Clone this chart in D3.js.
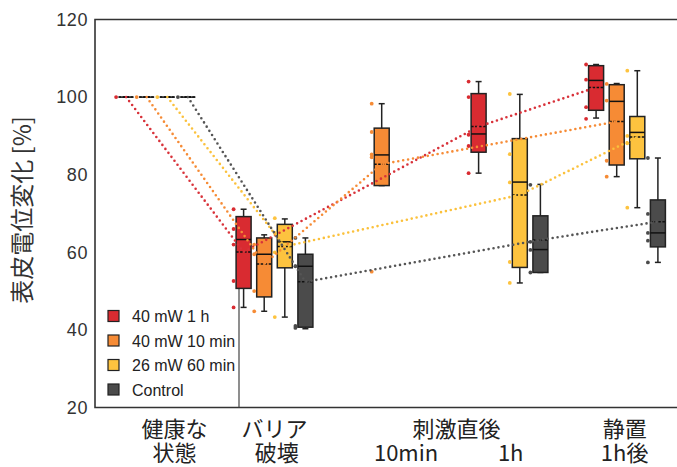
<!DOCTYPE html>
<html>
<head>
<meta charset="utf-8">
<script src="https://cdn.jsdelivr.net/npm/d3@7"></script>
<style>
  body { margin: 0; background: #fff; }
  svg { display: block; }
</style>
</head>
<body>
<svg width="677" height="467"></svg>
<script>
/* global d3 */
// stages along x: 0 健康な状態, 1 バリア破壊, 2 刺激直後10min, 3 刺激直後1h, 4 静置1h後
var seriesNames = ['40 mW 1 h', '40 mW 10 min', '26 mW 60 min', 'Control']
var seriesColors = ['#d92b31', '#f68b35', '#fdc33f', '#4b4b4b']
var lineColors = ['#d8323a', '#f68b35', '#fbc13c', '#555555']

var yTicks = [20, 40, 60, 80, 100, 120]
var topLabels = ['健康な', 'バリア', '刺激直後', '静置']
var topLabelPos = [0.15, 1, 2.55, 3.98]
var bottomLabels = ['状態', '破壊', '10min', '1h', '1h後']
var bottomLabelPos = [0.15, 1.02, 2.12, 3.01, 3.98]

// [min, q1, median, q3, max] per stage
var red1hStage = [0, 1, 3, 4]
var red1hBox = [[100, 100, 100, 100, 100], [45.8, 50.7, 63.3, 69.2, 71.1], [80.4, 85.8, 90.5, 100.9, 104], [94.6, 96.6, 104.3, 108.1, 108.4]]
var red1hMean = [100, 60.1, 92.4, 102.5]
var red1hPoints = [[100], [71.1, 66, 62, 52.6, 45.8], [104, 100, 90.3, 87.4, 80.4], [108.4, 104.5, 97.4, 94.4]]

var orange10Stage = [0, 1, 2, 4]
var orange10Box = [[100, 100, 100, 100, 100], [44.8, 48.5, 59.5, 63.7, 64.5], [77.2, 77.2, 85.1, 92, 98.3], [79.5, 82.5, 98.9, 103.2, 103.5]]
var orange10Mean = [100, 57, 82.7, 93.7]
var orange10Points = [[100], [62, 59.5, 50, 44.8], [98.3, 91, 85.2, 84.5, 55], [103.4, 99.1, 83.6, 79.5]]

var yellow60Stage = [0, 1, 3, 4]
var yellow60Box = [[100, 100, 100, 100, 100], [43.3, 56, 62.7, 67.2, 68.6], [52.1, 56.1, 78.1, 89.3, 100.7], [71.5, 84.1, 90.9, 95, 106.8]]
var yellow60Mean = [100, 61.5, 74.8, 89.7]
var yellow60Points = [[100], [68.8, 65, 60, 43.3], [100.8, 85.3, 78, 57.5, 52.1], [106.8, 90, 88.1, 71.5]]

var controlStage = [0, 1, 3, 4]
var controlBox = [[100, 100, 100, 100, 100], [40.3, 40.7, 56.4, 59.5, 63.7], [54.8, 54.8, 60.7, 69.4, 77.5], [57.4, 61.4, 65, 73.5, 84.3]]
var controlMean = [100, 52.4, 63.2, 67.9]
var controlPoints = [[100], [63.7, 56.4, 41, 40.5], [77.4, 62.7, 60.6, 54.8], [84.3, 69.9, 65, 63, 57.4]]

var allStages = [red1hStage, orange10Stage, yellow60Stage, controlStage]
var allBoxes = [red1hBox, orange10Box, yellow60Box, controlBox]
var allMeans = [red1hMean, orange10Mean, yellow60Mean, controlMean]
var allPoints = [red1hPoints, orange10Points, yellow60Points, controlPoints]

var series = seriesNames.map(function (name, i) {
  return {
    name: name,
    i: i,
    items: allStages[i].map(function (s, j) {
      return { name: name, i: i, stage: s, box: allBoxes[i][j], mean: allMeans[i][j], points: allPoints[i][j] }
    })
  }
})
var items = [].concat.apply([], series.map(function (s) { return s.items }))

var svg = d3.select('svg')
var W = +svg.attr('width')
var plotLeft = 95
var plotTop = 19.5
var plotBottom = 407.5

var x = d3.scaleLinear().domain([0, 4]).range([157, 627])
var slot = d3.scaleBand().domain(seriesNames).range([-41.2, 41.2])
var y = d3.scaleLinear().domain([20, 120]).range([plotBottom, plotTop])
var boxW = 15
var cx = function (d) { return x(d.stage) + slot(d.name) + slot.bandwidth() / 2 }

// y axis labels
svg.append('g')
    .attr('transform', 'translate(' + plotLeft + ',0)')
    .call(d3.axisLeft(y).tickValues(yTicks).tickSize(0).tickPadding(7))
    .call(function (g) { g.select('.domain').remove() })
    .selectAll('text')
      .attr('font-family', '"Liberation Sans", Arial, sans-serif')
      .attr('font-size', 18)
      .attr('letter-spacing', 0.6)
      .attr('fill', '#333')

// frame
svg.append('path')
    .attr('d', 'M' + (W + 5) + ',' + plotTop + 'H' + plotLeft + 'V' + plotBottom + 'H' + (W + 5))
    .attr('fill', 'none')
    .attr('stroke', '#333')
    .attr('stroke-width', 1.6)

// legend border (right edge)
svg.append('line')
    .attr('x1', 239).attr('x2', 239)
    .attr('y1', 289).attr('y2', plotBottom)
    .attr('stroke', '#444')
    .attr('stroke-width', 1.2)

// boxes
var box = svg.append('g').selectAll('g')
  .data(items)
  .enter().append('g')

box.append('line')
    .attr('x1', cx).attr('x2', cx)
    .attr('y1', function (d) { return y(d.box[0]) })
    .attr('y2', function (d) { return y(d.box[4]) })
    .attr('stroke', '#222')
    .attr('stroke-width', 1.5)

box.selectAll('.cap')
  .data(function (d) { return [d, d].map(function (e, k) { return { c: cx(e), v: e.box[k * 4] } }) })
  .enter().append('line')
    .attr('class', 'cap')
    .attr('x1', function (d) { return d.c - 3 }).attr('x2', function (d) { return d.c + 3 })
    .attr('y1', function (d) { return y(d.v) }).attr('y2', function (d) { return y(d.v) })
    .attr('stroke', '#222')
    .attr('stroke-width', 1.5)

box.append('rect')
    .attr('x', function (d) { return cx(d) - boxW / 2 })
    .attr('width', boxW)
    .attr('y', function (d) { return y(d.box[3]) })
    .attr('height', function (d) { return y(d.box[1]) - y(d.box[3]) })
    .attr('fill', function (d) { return seriesColors[d.i] })
    .attr('stroke', '#222')
    .attr('stroke-width', 1.5)

box.append('line')
    .attr('x1', function (d) { return cx(d) - boxW / 2 })
    .attr('x2', function (d) { return cx(d) + boxW / 2 })
    .attr('y1', function (d) { return y(d.box[2]) })
    .attr('y2', function (d) { return y(d.box[2]) })
    .attr('stroke', '#111')
    .attr('stroke-width', 1.5)

box.append('line')
    .attr('x1', function (d) { return cx(d) - boxW / 2 })
    .attr('x2', function (d) { return cx(d) + boxW / 2 })
    .attr('y1', function (d) { return y(d.mean) })
    .attr('y2', function (d) { return y(d.mean) })
    .attr('stroke', '#111')
    .attr('stroke-width', 1.5)
    .attr('stroke-dasharray', '2.5,1.5')

// raw points, just left of each box
box.selectAll('circle')
  .data(function (d) { return d.points.map(function (v) { return { c: cx(d) - 10, v: v, i: d.i } }) })
  .enter().append('circle')
    .attr('cx', function (d) { return d.c })
    .attr('cy', function (d) { return y(d.v) })
    .attr('r', 1.9)
    .attr('fill', function (d) { return seriesColors[d.i] })

// dotted lines through the means
var line = d3.line()
    .x(cx)
    .y(function (d) { return y(d.mean) })

svg.append('g').selectAll('path')
  .data(series)
  .enter().append('path')
    .attr('d', function (d) { return line(d.items) })
    .attr('fill', 'none')
    .attr('stroke', function (d) { return lineColors[d.i] })
    .attr('stroke-width', 2.6)
    .attr('stroke-linecap', 'round')
    .attr('stroke-dasharray', '0,5')

// legend
var legend = svg.append('g').selectAll('g')
  .data(seriesNames)
  .enter().append('g')
    .attr('transform', function (d, i) { return 'translate(108,' + (316 + i * 24.5) + ')' })

legend.append('rect')
    .attr('x', 0).attr('y', -5.5)
    .attr('width', 11).attr('height', 11)
    .attr('fill', function (d, i) { return seriesColors[i] })
    .attr('stroke', '#222')
    .attr('stroke-width', 1.2)

legend.append('text')
    .attr('x', 24)
    .attr('y', 6)
    .attr('font-family', '"Liberation Sans", Arial, sans-serif')
    .attr('font-size', 16)
    .attr('fill', '#222')
    .text(function (d) { return d })

// x labels
var jp = '"Noto Sans CJK JP", sans-serif'
svg.append('g').selectAll('text')
  .data(topLabels)
  .enter().append('text')
    .attr('x', function (d, i) { return x(topLabelPos[i]) })
    .attr('y', 437)
    .attr('text-anchor', 'middle')
    .attr('font-family', jp)
    .attr('font-size', 22)
    .attr('fill', '#222')
    .text(function (d) { return d })

svg.append('g').selectAll('text')
  .data(bottomLabels)
  .enter().append('text')
    .attr('x', function (d, i) { return x(bottomLabelPos[i]) })
    .attr('y', 461)
    .attr('text-anchor', 'middle')
    .attr('font-family', jp)
    .attr('font-size', 22)
    .attr('fill', '#222')
    .text(function (d) { return d })

// y title
svg.append('text')
    .attr('transform', 'translate(31,210) rotate(-90)')
    .attr('text-anchor', 'middle')
    .attr('font-family', jp)
    .attr('font-size', 24)
    .attr('fill', '#333')
    .text('表皮電位変化 [%]')
</script>
</body>
</html>
